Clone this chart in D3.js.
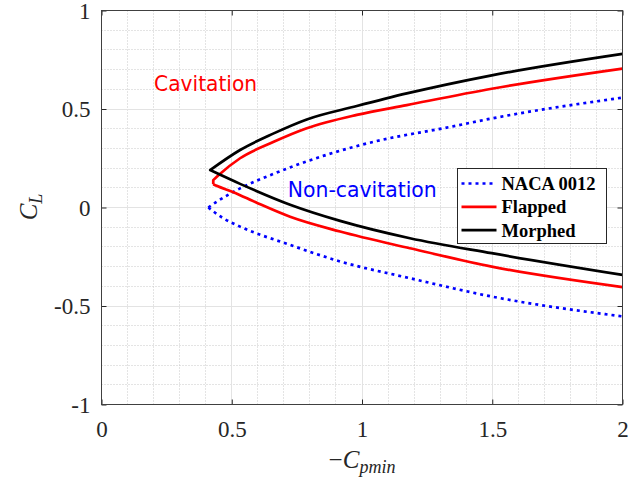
<!DOCTYPE html>
<html>
<head>
<meta charset="utf-8">
<script src="https://cdn.jsdelivr.net/npm/d3@7/dist/d3.min.js"></script>
<style>
  body{margin:0;background:#fff;}
  .tick text{font-family:"Liberation Serif","Times New Roman",serif;font-size:23px;fill:#262626;}
  .tick line{stroke:#262626;}
  .domain{display:none;}
  .minor{stroke:#c8c8c8;stroke-dasharray:1,2;stroke-width:1;}
  .major{stroke:#e3e3e3;stroke-width:1;}
  .curve{fill:none;stroke-width:2.7;stroke-linejoin:round;}
</style>
</head>
<body>
<script>
// values: -Cpmin and CL on each branch
var nacaUpX   = [0.41, 0.442, 0.532, 0.659, 0.851, 1.043, 1.338, 1.498, 2.0];
var nacaUpY   = [0.0, 0.029, 0.097, 0.17, 0.262, 0.333, 0.409, 0.452, 0.558];
var nacaLoX   = [0.41, 0.468, 0.532, 0.724, 0.916, 1.184, 1.498, 2.0];
var nacaLoY   = [0.0, -0.055, -0.097, -0.19, -0.274, -0.359, -0.452, -0.553];

var flapUpX   = [0.429, 0.45, 0.532, 0.659, 0.788, 0.98, 1.172, 1.498, 2.0];
var flapUpY   = [0.139, 0.165, 0.25, 0.332, 0.402, 0.47, 0.52, 0.603, 0.705];
var flapLoX   = [0.429, 0.442, 0.506, 0.596, 0.724, 0.916, 1.184, 1.498, 2.0];
var flapLoY   = [0.118, 0.11, 0.078, 0.024, -0.047, -0.122, -0.207, -0.3, -0.404];

var morphUpX  = [0.417, 0.532, 0.659, 0.788, 0.98, 1.172, 1.498, 2.0];
var morphUpY  = [0.19, 0.292, 0.375, 0.447, 0.515, 0.579, 0.671, 0.78];
var morphLoX  = [0.417, 0.532, 0.724, 0.916, 1.184, 1.498, 2.0];
var morphLoY  = [0.19, 0.12, 0.014, -0.068, -0.156, -0.232, -0.342];

var seriesNames  = ["NACA 0012", "Flapped", "Morphed"];
var seriesColors = ["#0000ff", "#ff0000", "#000000"];

var xTicks = [0, 0.5, 1, 1.5, 2];
var yTicks = [-1, -0.5, 0, 0.5, 1];
var regionLabels = ["Cavitation", "Non-cavitation"];
var regionX = [0.202, 0.715];
var regionY = [0.591, 0.055];

var W=643, H=481;
var mLeft=101.5, mTop=10.5, w=521, h=394;

var svg=d3.select('body').append('svg').attr('width',W).attr('height',H);
var g=svg.append('g').attr('transform','translate('+mLeft+','+mTop+')');

var x=d3.scaleLinear().domain([0,2]).range([0,w]);
var y=d3.scaleLinear().domain([-1,1]).range([h,0]);

// grid
var minorX=d3.range(0,2.0001,0.1).filter(function(d){return Math.abs(d*2-Math.round(d*2))>1e-6;});
var minorY=d3.range(-1,1.0001,0.1).filter(function(d){return Math.abs(d*2-Math.round(d*2))>1e-6;});
g.selectAll('.mx').data(minorX).enter().append('line').attr('class','minor')
  .attr('x1',function(d){return Math.round(x(d))}).attr('x2',function(d){return Math.round(x(d))})
  .attr('y1',0).attr('y2',h);
g.selectAll('.my').data(minorY).enter().append('line').attr('class','minor')
  .attr('y1',function(d){return Math.round(y(d))}).attr('y2',function(d){return Math.round(y(d))})
  .attr('x1',0).attr('x2',w);
g.selectAll('.gx').data(xTicks.slice(1,-1)).enter().append('line').attr('class','major')
  .attr('x1',function(d){return Math.round(x(d))}).attr('x2',function(d){return Math.round(x(d))})
  .attr('y1',0).attr('y2',h);
g.selectAll('.gy').data(yTicks.slice(1,-1)).enter().append('line').attr('class','major')
  .attr('y1',function(d){return Math.round(y(d))}).attr('y2',function(d){return Math.round(y(d))})
  .attr('x1',0).attr('x2',w);

// axes, ticks pointing inwards
var fmt=function(d){return String(d);};
g.append('g').attr('class','xax').attr('transform','translate(0,'+h+')')
  .call(d3.axisBottom(x).tickValues(xTicks).tickFormat(fmt).tickSize(-5).tickPadding(16));
g.append('g').attr('class','yax')
  .call(d3.axisLeft(y).tickValues(yTicks).tickFormat(fmt).tickSize(-5).tickPadding(11));
g.append('g').call(d3.axisTop(x).tickValues(xTicks).tickFormat('').tickSize(-5));
g.append('g').attr('transform','translate('+w+',0)')
  .call(d3.axisRight(y).tickValues(yTicks).tickFormat('').tickSize(-5));
g.selectAll('.xax .tick text').attr('dy','0.72em');
g.selectAll('.yax .tick text').attr('dy','0.33em');

// curves: each branch smooth, joined at the nose
function pts(xs,ys){return xs.map(function(d,i){return [d,ys[i]];});}
var branches=[
  [pts(nacaLoX,nacaLoY), pts(nacaUpX,nacaUpY)],
  [pts(flapLoX,flapLoY), pts(flapUpX,flapUpY)],
  [pts(morphLoX,morphLoY), pts(morphUpX,morphUpY)]
];
var line=d3.line().x(function(d){return x(d[0])}).y(function(d){return y(d[1])}).curve(d3.curveMonotoneX);
function shape(b){
  var lo=line(b[0]), up=line(b[1]);
  return lo+'M'+x(b[0][0][0])+','+y(b[0][0][1])+up.replace('M','L');
}
g.selectAll('.curve').data(branches).enter().append('path').attr('class','curve')
  .attr('d',shape)
  .attr('stroke',function(d,i){return seriesColors[i]})
  .attr('stroke-dasharray',function(d,i){return i==0?'3,4':null});

// box
g.append('rect').attr('x',0).attr('y',0).attr('width',w).attr('height',h)
  .attr('fill','none').attr('stroke','#404040').attr('stroke-width',1);

// region labels
var regW=[103,149];
g.selectAll('.reg').data(regionLabels).enter().append('text')
  .attr('x',function(d,i){return x(regionX[i])})
  .attr('y',function(d,i){return y(regionY[i])})
  .attr('fill',function(d,i){return i==0?'#ff0000':'#0000ff'})
  .attr('textLength',function(d,i){return regW[i]}).attr('lengthAdjust','spacingAndGlyphs')
  .style('font-family','"DejaVu Sans",sans-serif').style('font-size','21.5px')
  .text(function(d){return d});

// legend
var lg=svg.append('g').attr('transform','translate(457.5,168.5)');
lg.append('rect').attr('width',149).attr('height',75).attr('fill','#fff').attr('stroke','#262626').attr('stroke-width',1);
var items=lg.selectAll('.it').data(seriesNames).enter().append('g')
  .attr('transform',function(d,i){return 'translate(0,'+(15+i*23.3)+')'});
items.append('line').attr('x1',4).attr('x2',39).attr('y1',0).attr('y2',0)
  .attr('stroke',function(d,i){return seriesColors[i]}).attr('stroke-width',2.7)
  .attr('stroke-dasharray',function(d,i){return i==0?'3,4':null});
items.append('text').attr('x',44).attr('y',6.5)
  .style('font-family','"Liberation Serif",serif').style('font-weight','bold').style('font-size','18.5px')
  .attr('fill','#000').text(function(d){return d});

// axis titles
var xl=svg.append('text').attr('x',362).attr('y',468).attr('text-anchor','middle')
  .style('font-family','"Liberation Serif",serif').style('font-size','25px').attr('fill','#262626');
xl.append('tspan').text('\u2212');
xl.append('tspan').style('font-style','italic').text('C');
xl.append('tspan').style('font-style','italic').style('font-size','18px').attr('dy',5).text('pmin');

var yl=svg.append('text').attr('transform','translate(37,207) rotate(-90)').attr('text-anchor','middle')
  .style('font-family','"Liberation Serif",serif').style('font-size','25px').attr('fill','#262626');
yl.append('tspan').style('font-style','italic').text('C');
yl.append('tspan').style('font-style','italic').style('font-size','18px').attr('dy',5).text('L');
</script>
</body>
</html>
